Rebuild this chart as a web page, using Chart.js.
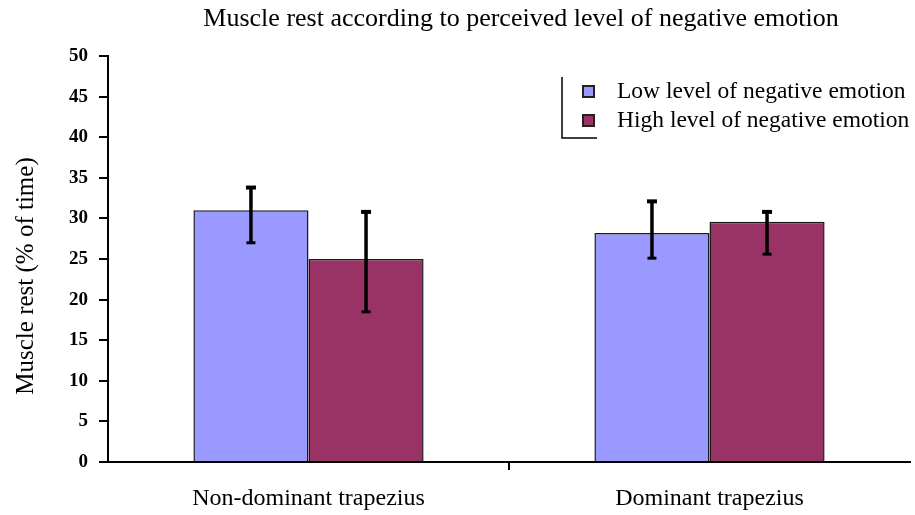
<!DOCTYPE html>
<html>
<head>
<meta charset="utf-8">
<script src="https://cdn.jsdelivr.net/npm/chart.js@4.4.1/dist/chart.umd.min.js"></script>
<style>
  html, body { margin: 0; padding: 0; background: #fff; }
  canvas { display: block; }
</style>
</head>
<body>
<canvas id="chart" width="915" height="515"></canvas>
<script>
// Chart text
const TITLE = 'Muscle rest according to perceived level of negative emotion';
const Y_TITLE = 'Muscle rest (% of time)';

// Categories and series
const categories = ['Non-dominant trapezius', 'Dominant trapezius'];
const seriesNames = ['Low level of negative emotion', 'High level of negative emotion'];

// Mean muscle rest (% of time)
const lowMean = [31.0, 28.2];
const highMean = [25.0, 29.6];

// Error bar ends (% of time)
const lowUpper = [33.8, 32.1];
const lowLower = [27.0, 25.1];
const highUpper = [30.8, 30.8];
const highLower = [18.5, 25.6];

// Y axis range and step
const yMin = 0, yMax = 50, yStep = 5;

const SERIF = "'Liberation Serif', 'Times New Roman', serif";
const LOW_COLOR = '#9999ff';
const HIGH_COLOR = '#993366';

// Error bars with flat caps
const errorBars = {
  id: 'errorBars',
  afterDatasetsDraw(chart) {
    const ctx = chart.ctx;
    const y = chart.scales.y;
    chart.data.datasets.forEach((ds, di) => {
      const meta = chart.getDatasetMeta(di);
      meta.data.forEach((bar, i) => {
        const top = y.getPixelForValue(ds.errUpper[i]);
        const bot = y.getPixelForValue(ds.errLower[i]);
        ctx.save();
        ctx.strokeStyle = '#000';
        ctx.lineWidth = 3.5;
        ctx.beginPath();
        ctx.moveTo(bar.x, top);
        ctx.lineTo(bar.x, bot);
        ctx.stroke();
        ctx.fillStyle = '#000';
        ctx.fillRect(bar.x - 5, top - 2, 10, 4);
        ctx.fillRect(bar.x - 4.5, bot - 1.5, 9, 3);
        ctx.restore();
      });
    });
  }
};

// Title, rotated axis title and legend drawn over the plot
const overlay = {
  id: 'overlay',
  afterDraw(chart) {
    const ctx = chart.ctx;
    ctx.save();
    ctx.fillStyle = '#000';
    ctx.font = '26px ' + SERIF;
    ctx.textAlign = 'center';
    ctx.textBaseline = 'middle';
    ctx.fillText(TITLE, 521, 19);

    // vertical axis title
    ctx.save();
    ctx.translate(26, 276);
    ctx.rotate(-Math.PI / 2);
    ctx.font = '25px ' + SERIF;
    ctx.fillText(Y_TITLE, 0, 0);
    ctx.restore();

    // legend frame remnant
    ctx.strokeStyle = '#000';
    ctx.lineWidth = 1.5;
    ctx.beginPath();
    ctx.moveTo(562, 77);
    ctx.lineTo(562, 138);
    ctx.lineTo(597, 138);
    ctx.stroke();

    ctx.font = '23.5px ' + SERIF;
    ctx.textAlign = 'left';
    chart.data.datasets.forEach((ds, i) => {
      const cy = 92 + i * 29;
      ctx.fillStyle = ds.backgroundColor;
      ctx.fillRect(583, cy - 6, 11, 11);
      ctx.strokeStyle = '#222';
      ctx.lineWidth = 2;
      ctx.strokeRect(583, cy - 6, 11, 11);
      ctx.fillStyle = '#000';
      ctx.fillText(ds.label, 617, cy);
    });
    ctx.restore();
  }
};

new Chart(document.getElementById('chart'), {
  type: 'bar',
  data: {
    labels: categories,
    datasets: [
      {
        label: seriesNames[0],
        data: lowMean,
        errUpper: lowUpper,
        errLower: lowLower,
        backgroundColor: LOW_COLOR,
        borderColor: '#1a1a1a',
        borderWidth: 1.5
      },
      {
        label: seriesNames[1],
        data: highMean,
        errUpper: highUpper,
        errLower: highLower,
        backgroundColor: HIGH_COLOR,
        borderColor: '#1a1a1a',
        borderWidth: 1.5
      }
    ]
  },
  options: {
    responsive: false,
    animation: false,
    devicePixelRatio: 1,
    categoryPercentage: 0.574,
    barPercentage: 1.0,
    layout: { padding: { top: 56, right: 5, left: 0, bottom: 0 } },
    plugins: {
      legend: { display: false },
      title: { display: false },
      tooltip: { enabled: false }
    },
    scales: {
      x: {
        offset: true,
        grid: {
          offset: true,
          drawOnChartArea: false,
          drawTicks: true,
          tickLength: 8,
          lineWidth: 2,
          color: (c) => (c.index === 1 ? '#000' : 'rgba(0,0,0,0)')
        },
        border: { display: true, color: '#000', width: 2 },
        ticks: {
          color: '#000',
          font: { family: SERIF, size: 24 },
          padding: 14
        },
        afterFit(scale) { scale.height = 53; }
      },
      y: {
        min: yMin,
        max: yMax,
        ticks: {
          stepSize: yStep,
          color: '#000',
          font: { family: SERIF, size: 19, weight: 'bold' },
          padding: 11
        },
        grid: {
          drawOnChartArea: false,
          drawTicks: true,
          tickLength: 9,
          lineWidth: 2,
          color: '#000'
        },
        border: { display: true, color: '#000', width: 2 },
        title: { display: false },
        afterFit(scale) { scale.width = 108; }
      }
    }
  },
  plugins: [errorBars, overlay]
});
</script>
</body>
</html>
